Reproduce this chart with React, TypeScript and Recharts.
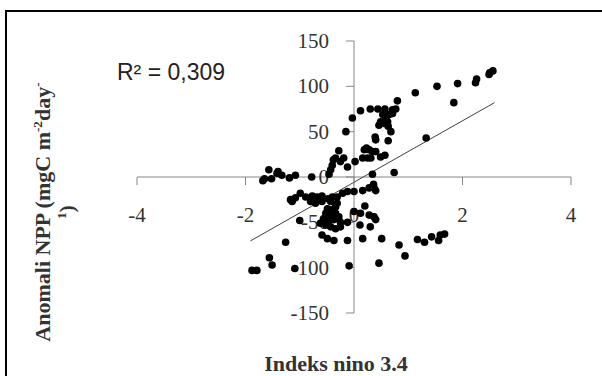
import React from "react"
import { ScatterChart, Scatter, XAxis, YAxis, ReferenceLine, ReferenceDot } from "recharts"

// Indeks nino 3.4 (x) and NPP anomaly (y)
const ninoIdx = [
    -0.03, 0.12, 0.30, 0.44, 0.57, 0.71, 0.77, 0.80, 1.13, 1.53, 1.91, 2.24, 2.26, 2.49, 2.50, 2.56, 1.84, 1.33,
    0.53, 0.59, 0.65, 0.71, 0.49, 0.56, 0.62, 0.46, 0.63, 0.68, 0.63, 0.39, 0.40,
    0.23, 0.28, 0.19, 0.34, 0.40, 0.16, 0.25, 0.31, 0.49, 0.57, 0.02, 0.34, 0.74,
    -0.15, -0.28, -0.34, -0.38, -0.25, -0.19, -0.12, -0.40, -0.43, -0.46, -0.78, -1.08, -1.19, -1.33, -1.40, -1.57, -1.52, -1.65, -1.68, -1.42,
    -1.14, -1.17, -1.08, -0.99, -0.89, -0.77, -0.68, -0.59, -0.80, -0.71, -0.59, -0.48, -0.40, -0.31, -0.43, -0.31, -0.21, -0.12, 0.0,
    -0.49, -0.40, -0.34, -0.52, -0.43, -0.34, -0.56, -0.46, -0.37, -0.28, -0.25, -0.62, -0.52, -0.43, -0.34, -0.25, -0.12, -1.00,
    -0.59, -0.49, -0.37, -0.12, -1.26, -1.56, -1.51, -1.88, -1.79, -1.09, -0.09,
    0.16, 0.28, 0.36, 0.40, 0.37, 0.20, 0.12, 0.28, 0.37, 0.40, 0.0, 0.11, 0.30, 0.16, 0.51, 0.83, 0.94, 0.46,
    1.17, 1.30, 1.43, 1.56, 1.59, 1.67,
]
const nppAnom = [
    65, 73, 75, 75, 75, 74, 75, 84, 93, 100, 103, 104, 108, 113, 115, 117, 82, 43,
    69, 65, 69, 70, 61, 59, 61, 57, 56, 50, 40, 44, 41,
    32, 30, 30, 28, 28, 21, 21, 21, 22, 24, 17, 3, 5,
    50, 29, 21, 19, 17, 21, 11, 13, 8, 3, 0, 2, -1, 2, 6, 8, -2, -2, -4, 4,
    -27, -25, -23, -18, -22, -21, -22, -21, -27, -29, -27, -24, -22, -22, -27, -29, -18, -16, -16,
    -35, -36, -33, -40, -42, -40, -46, -48, -47, -44, -50, -51, -53, -55, -57, -55, -50, -48,
    -64, -68, -70, -70, -72, -89, -97, -103, -103, -101, -98,
    -15, -12, -8, -15, -12, -32, -40, -42, -44, -47, -38, -53, -55, -68, -68, -75, -87, -95,
    -69, -72, -66, -70, -64, -63,
]

const xTicks = [-4, -2, 0, 2, 4]
const yTicks = [-150, -100, -50, 0, 50, 100, 150]

// linear trend line ends
const trendX = [-1.91, 2.59]
const trendY = [-70.5, 82]

const points = ninoIdx.map((x, i) => ({ x, y: nppAnom[i] }))

const axisGray = "#868686"

const XTick = (props: any) => {
    const { cx, cy, label } = props
    return (
        <g>
            <line x1={cx} y1={cy} x2={cx} y2={cy + 8} stroke={axisGray} strokeWidth={1} />
            <text x={cx} y={cy + 38} textAnchor="middle" dominantBaseline="central"
                fontFamily="Liberation Serif" fontSize={21} fill="#333">{label}</text>
        </g>
    )
}

const YTick = (props: any) => {
    const { cx, cy, label } = props
    return (
        <g>
            <line x1={cx - 8} y1={cy} x2={cx} y2={cy} stroke={axisGray} strokeWidth={1} />
            <text x={cx - 25} y={cy} textAnchor="end" dominantBaseline="central"
                fontFamily="Liberation Serif" fontSize={21} fill="#333">{label}</text>
        </g>
    )
}

export default function App() {
    return (
        <div style={{ position: "fixed", left: 0, top: 0, width: 602, height: 376, overflow: "hidden", background: "#fff" }}>
            <div style={{ position: "absolute", left: 5, top: 10, width: 640, height: 420, border: "2px solid #000" }} />

            <ScatterChart width={602} height={376} margin={{ top: 41, right: 31, bottom: 63, left: 137 }}>
                <XAxis type="number" dataKey="x" domain={[-4, 4]} hide />
                <YAxis type="number" dataKey="y" domain={[-150, 150]} hide />
                <ReferenceLine y={0} stroke={axisGray} strokeWidth={1} />
                <ReferenceLine x={0} stroke={axisGray} strokeWidth={1} />
                {xTicks.map((t) => (
                    <ReferenceDot key={"x" + t} x={t} y={0} r={0} ifOverflow="visible"
                        shape={(p: any) => <XTick {...p} label={String(t)} />} />
                ))}
                {yTicks.map((t) => (
                    <ReferenceDot key={"y" + t} x={0} y={t} r={0} ifOverflow="visible"
                        shape={(p: any) => <YTick {...p} label={String(t)} />} />
                ))}
                <ReferenceLine
                    segment={[{ x: trendX[0], y: trendY[0] }, { x: trendX[1], y: trendY[1] }]}
                    stroke="#404040"
                    strokeWidth={1}
                />
                <Scatter
                    data={points}
                    isAnimationActive={false}
                    shape={(p: any) => <circle cx={p.cx} cy={p.cy} r={3.8} fill="#000" />}
                />
                <text x={117} y={72} dominantBaseline="central" fontFamily="Liberation Sans" fontSize={23} fill="#222">
                    R² = 0,309
                </text>
                <text x={336} y={363} textAnchor="middle" dominantBaseline="central"
                    fontFamily="Liberation Serif" fontWeight="bold" fontSize={22} fill="#333">
                    Indeks nino 3.4
                </text>
            </ScatterChart>

            {/* rotated y title, wraps onto two lines like the original */}
            <div style={{
                position: "absolute", left: 55 - 150, top: 212 - 24, width: 300, height: 48,
                transform: "rotate(-90deg)", textAlign: "center",
                fontFamily: "Liberation Serif", fontWeight: "bold", fontSize: 22, lineHeight: "24px", color: "#333",
            }}>
                Anomali NPP (mgC m<sup style={{ fontSize: "0.6em", lineHeight: 0 }}>-2</sup>day<sup style={{ fontSize: "0.6em", lineHeight: 0 }}>-</sup>
                <br />
                <sup style={{ fontSize: "0.6em", lineHeight: 0 }}>1</sup>)
            </div>
        </div>
    )
}
